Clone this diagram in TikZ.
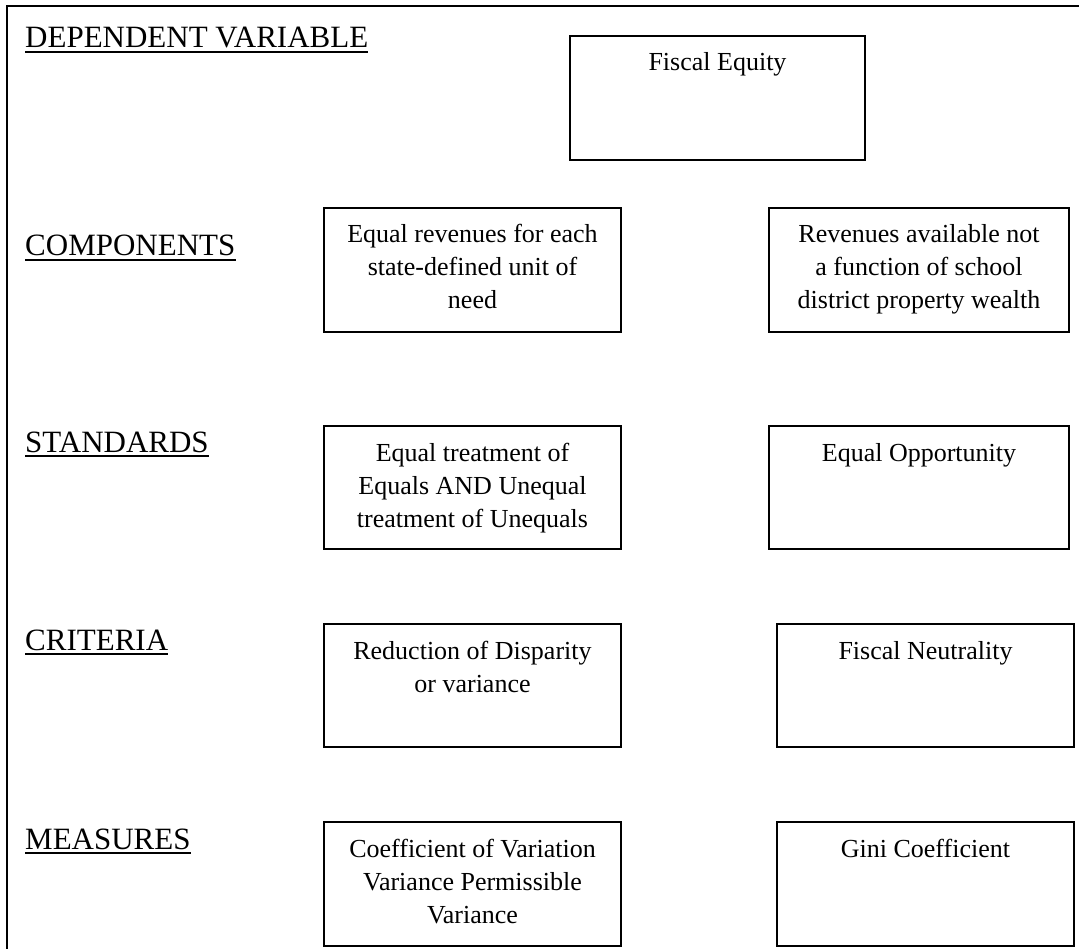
\documentclass[tikz,border=0pt]{standalone}
\usepackage{fontspec}
\setmainfont{Liberation Serif}
\newcommand{\labfont}{\fontsize{31}{36}\selectfont}
\newcommand{\bxfont}{\fontsize{26}{33}\selectfont}
\newcommand{\boxtext}[3]{\parbox[c][#2pt][t]{#1pt}{\centering\bxfont\rule{0pt}{35pt}#3\par}}
\tikzset{
  frame/.style={line width=2.5pt},
  bx/.style={draw, line width=2pt, inner sep=0pt, anchor=north west},
  lab/.style={anchor=base west, inner sep=0pt, font=\labfont},
  uline/.style={line width=1.4pt}
}
\begin{document}
\begin{tikzpicture}[x=1pt,y=-1pt]
\useasboundingbox (0,0) rectangle (1079,949);
\coordinate (fbl) at (7,949);
\coordinate (ftl) at (7,6);
\coordinate (ftr) at (1079,6);
\draw[frame] (fbl) -- (ftl) -- (ftr);
% labels
\node[lab] (l1) at (25,48) {DEPENDENT VARIABLE};
\node[lab] (l2) at (25,256) {COMPONENTS};
\node[lab] (l3) at (25,452) {STANDARDS};
\node[lab] (l4) at (25,650) {CRITERIA};
\node[lab] (l5) at (25,849) {MEASURES};
\foreach \n in {l1,l2,l3,l4,l5}{
  \draw[uline] ([yshift=-4pt]\n.base west) -- ([yshift=-4pt]\n.base east);
}
% boxes
\node[bx] (fe) at (569,35) {\boxtext{295}{124}{Fiscal Equity}};
\node[bx] (c1) at (323,207) {\boxtext{297}{124}{Equal revenues for each\\state-defined unit of\\need}};
\node[bx] (c2) at (768,207) {\boxtext{300}{124}{Revenues available not\\a function of school\\district property wealth}};
\node[bx] (s1) at (323,425) {\boxtext{297}{123}{Equal treatment of\\Equals AND Unequal\\treatment of Unequals}};
\node[bx] (s2) at (768,425) {\boxtext{300}{123}{Equal Opportunity}};
\node[bx] (k1) at (323,623) {\boxtext{297}{123}{Reduction of Disparity\\or variance}};
\node[bx] (k2) at (776,623) {\boxtext{297}{123}{Fiscal Neutrality}};
\node[bx] (m1) at (323,821) {\boxtext{297}{124}{Coefficient of Variation\\Variance Permissible\\Variance}};
\node[bx] (m2) at (776,821) {\boxtext{297}{124}{Gini Coefficient}};
\end{tikzpicture}
\end{document}
